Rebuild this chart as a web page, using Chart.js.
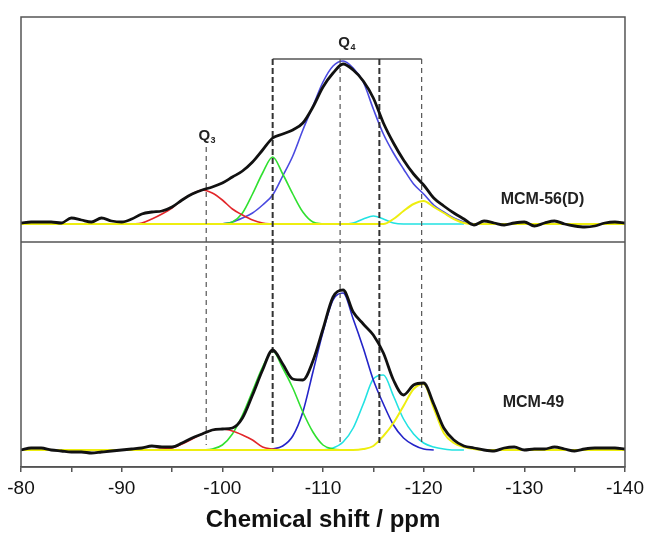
<!DOCTYPE html>
<html>
<head>
<meta charset="utf-8">
<script src="https://cdn.jsdelivr.net/npm/chart.js@4.4.1/dist/chart.umd.min.js"></script>
<style>
  html, body { margin: 0; padding: 0; background: #fff; }
</style>
</head>
<body>
<canvas id="nmrChart" width="649" height="534"></canvas>
<script>
const _ = null;

// chemical shift grid (ppm)
const shift = [
  -80, -81, -82, -83, -84, -85, -86, -87, -88, -89,
  -90, -91, -92, -93, -94, -95, -96, -97, -98, -99,
  -100, -101, -102, -103, -104, -105, -106, -107, -108, -109,
  -110, -111, -112, -113, -114, -115, -116, -117, -118, -119,
  -120, -121, -122, -123, -124, -125, -126, -127, -128, -129,
  -130, -131, -132, -133, -134, -135, -136, -137, -138, -139,
  -140
];

// MCM-56(D) (upper trace), intensity above its baseline
const mcm56Exp = [
  1, 2, 2, 2, 1, 6, 4, 2, 6, 3,
  2, 5, 10, 12, 13, 17, 24, 30, 34, 37,
  41, 47, 53, 62, 74, 86, 90, 94, 101, 117,
  137, 151, 160, 154, 143, 126, 101, 81, 64, 50,
  39, 26, 18, 11, 5, -1, 3, 1, -1, 1,
  2, -2, 1, 3, 0, -2, -3, -2, 1, 2,
  1
];
const mcm56Red = [
  _, _, _, _, _, _, _, _, _, _,
  _, 0, 1, 5, 10, 16, 24, 30, 34, 31,
  24, 15, 9, 4, 1, 0, _, _, _, _,
  _, _, _, _, _, _, _, _, _, _,
  _, _, _, _, _, _, _, _, _, _,
  _, _, _, _, _, _, _, _, _, _,
  _
];
const mcm56Green = [
  _, _, _, _, _, _, _, _, _, _,
  _, _, _, _, _, _, _, _, _, _,
  0, 2, 11, 30, 51, 67, 50, 30, 12, 2,
  0, _, _, _, _, _, _, _, _, _,
  _, _, _, _, _, _, _, _, _, _,
  _, _, _, _, _, _, _, _, _, _,
  _
];
const mcm56Blue = [
  _, _, _, _, _, _, _, _, _, _,
  _, _, _, _, _, _, _, _, _, _,
  0, 2, 6, 11, 19, 29, 48, 68, 94, 118,
  142, 158, 163, 156, 142, 115, 90, 71, 55, 40,
  30, 19, 12, 6, 2, 0, _, _, _, _,
  _, _, _, _, _, _, _, _, _, _,
  _
];
const mcm56Cyan = [
  _, _, _, _, _, _, _, _, _, _,
  _, _, _, _, _, _, _, _, _, _,
  _, _, _, _, _, _, _, _, _, _,
  _, 0, 0, 1, 5, 8, 5, 1, 0, 0,
  0, 0, 0, 0, 0, _, _, _, _, _,
  _, _, _, _, _, _, _, _, _, _,
  _
];
const mcm56Yellow = [
  0, 0, 0, 0, 0, 0, 0, 0, 0, 0,
  0, 0, 0, 0, 0, 0, 0, 0, 0, 0,
  0, 0, 0, 0, 0, 0, 0, 0, 0, 0,
  0, 0, 0, 0, 0, 0, 0, 5, 13, 20,
  23, 17, 11, 5, 1, 0, 0, 0, 0, 0,
  0, 0, 0, 0, 0, 0, 0, 0, 0, 0,
  0
];

// MCM-49 (lower trace)
const mcm49Exp = [
  0, 2, 2, 0, -1, -2, -2, -3, -2, -1,
  0, 1, 2, 4, 3, 3, 7, 12, 16, 20,
  21, 22, 32, 55, 80, 100, 86, 71, 70, 89,
  121, 153, 160, 138, 126, 115, 97, 70, 55, 65,
  67, 46, 22, 10, 4, 2, 0, -1, 2, 3,
  0, 1, 1, 3, 1, -1, 1, 2, 2, 2,
  1
];
const mcm49Red = [
  _, _, _, _, _, _, _, _, _, _,
  _, _, _, 0, 1, 2, 6, 11, 16, 20,
  21, 19, 15, 10, 3, 1, 0, _, _, _,
  _, _, _, _, _, _, _, _, _, _,
  _, _, _, _, _, _, _, _, _, _,
  _, _, _, _, _, _, _, _, _, _,
  _
];
const mcm49Green = [
  _, _, _, _, _, _, _, _, _, _,
  _, _, _, _, _, _, _, _, 0, 1,
  5, 16, 35, 59, 83, 99, 82, 62, 38, 18,
  5, 1, 0, _, _, _, _, _, _, _,
  _, _, _, _, _, _, _, _, _, _,
  _, _, _, _, _, _, _, _, _, _,
  _
];
const mcm49Blue = [
  _, _, _, _, _, _, _, _, _, _,
  _, _, _, _, _, _, _, _, _, _,
  _, _, _, _, 0, 1, 4, 14, 38, 78,
  118, 150, 157, 131, 102, 70, 46, 25, 12, 5,
  1, 0, _, _, _, _, _, _, _, _,
  _, _, _, _, _, _, _, _, _, _,
  _
];
const mcm49Cyan = [
  _, _, _, _, _, _, _, _, _, _,
  _, _, _, _, _, _, _, _, _, _,
  _, _, _, _, _, _, _, _, _, _,
  0, 2, 8, 22, 46, 71, 75, 54, 31, 16,
  7, 3, 1, 0, 0, _, _, _, _, _,
  _, _, _, _, _, _, _, _, _, _,
  _
];
const mcm49Yellow = [
  0, 0, 0, 0, 0, 0, 0, 0, 0, 0,
  0, 0, 0, 0, 0, 0, 0, 0, 0, 0,
  0, 0, 0, 0, 0, 0, 0, 0, 0, 0,
  0, 0, 0, 0, 1, 4, 14, 27, 44, 61,
  66, 42, 17, 7, 3, 1, 0, 0, 0, 0,
  0, 0, 0, 0, 0, 0, 0, 0, 0, 0,
  0
];

// vertical offset of the upper trace, and panel divider level
const upperOffset = 226;
const dividerLevel = 208;

// dashed guide lines at peak positions
const guideShift = [-98.4, -105, -111.7, -115.6, -119.8];
const guideTop = [303, 391, 391, 391, 391];
const guideThick = [false, true, false, true, false];
const guideBottom = 5;
// Q4 bracket
const bracketFrom = -105, bracketTo = -119.8, bracketLevel = 391;

const FONT = '"Liberation Sans", Arial, Helvetica, sans-serif';

function pts(values, offset) {
  const out = [];
  values.forEach((v, i) => {
    if (v !== null) out.push({ x: shift[i], y: v + offset });
  });
  return out;
}

function curve(values, offset, color, width) {
  return {
    data: pts(values, offset),
    borderColor: color,
    borderWidth: width,
    cubicInterpolationMode: 'monotone',
    pointRadius: 0,
    fill: false
  };
}

function seg(x1, y1, x2, y2, color, width, dash) {
  return {
    data: [{ x: x1, y: y1 }, { x: x2, y: y2 }],
    borderColor: color,
    borderWidth: width,
    borderDash: dash,
    pointRadius: 0,
    fill: false
  };
}

const datasets = [
  curve(mcm56Exp, upperOffset, '#111', 2.8),
  curve(mcm49Exp, 0, '#111', 2.8)
];
guideShift.forEach((s, i) => {
  datasets.push(seg(s, guideTop[i], s, guideBottom,
    guideThick[i] ? '#333' : '#555', guideThick[i] ? 2 : 1.2,
    guideThick[i] ? [6, 3] : [5, 4]));
});
datasets.push(seg(bracketFrom, bracketLevel, bracketTo, bracketLevel, '#555', 1.5, []));
datasets.push(seg(-80, dividerLevel, -140, dividerLevel, '#555', 1.6, []));
datasets.push(
  curve(mcm56Yellow, upperOffset, '#eeee10', 2),
  curve(mcm49Yellow, 0, '#eeee10', 2),
  curve(mcm56Red, upperOffset, '#e2262a', 1.6),
  curve(mcm49Red, 0, '#e2262a', 1.6),
  curve(mcm56Green, upperOffset, '#30e030', 1.6),
  curve(mcm49Green, 0, '#30e030', 1.6),
  curve(mcm56Blue, upperOffset, '#4a4ae0', 1.6),
  curve(mcm49Blue, 0, '#2424c8', 1.6),
  curve(mcm56Cyan, upperOffset, '#22e2e2', 1.6),
  curve(mcm49Cyan, 0, '#22e2e2', 1.6)
);

const frameAndLabels = {
  id: 'frameAndLabels',
  afterDatasetsDraw(chart) {
    const { ctx, chartArea: a, scales: { x, y } } = chart;
    ctx.save();
    ctx.strokeStyle = '#555';
    ctx.lineWidth = 1.5;
    ctx.strokeRect(a.left, a.top, a.right - a.left, a.bottom - a.top);

    ctx.fillStyle = '#222';
    ctx.textBaseline = 'alphabetic';

    function qLabel(text, sub, sx, sy) {
      ctx.font = 'bold 15px ' + FONT;
      ctx.textAlign = 'center';
      const px = x.getPixelForValue(sx), py = y.getPixelForValue(sy);
      ctx.fillText(text, px, py);
      const w = ctx.measureText(text).width;
      ctx.font = 'bold 9px ' + FONT;
      ctx.textAlign = 'left';
      ctx.fillText(sub, px + w / 2 + 0.5, py + 3);
    }
    qLabel('Q', '3', -98.2, 310);
    qLabel('Q', '4', -112.1, 403);

    ctx.font = 'bold 16px ' + FONT;
    ctx.textAlign = 'center';
    ctx.textBaseline = 'middle';
    ctx.fillText('MCM-56(D)', x.getPixelForValue(-131.8), y.getPixelForValue(250));
    ctx.fillText('MCM-49', x.getPixelForValue(-130.9), y.getPixelForValue(47));
    ctx.restore();
  }
};

new Chart(document.getElementById('nmrChart'), {
  type: 'line',
  data: { datasets: datasets },
  options: {
    responsive: false,
    animation: false,
    events: [],
    layout: { padding: { left: 21, right: 22, top: 17, bottom: 0 } },
    plugins: { legend: { display: false }, tooltip: { enabled: false } },
    scales: {
      x: {
        type: 'linear',
        min: -140,
        max: -80,
        reverse: true,
        afterFit(s) { s.height = 67; },
        border: { display: true, color: '#555', width: 1.5 },
        grid: { drawOnChartArea: false, drawTicks: true, tickLength: 5, color: '#555', lineWidth: 1.5 },
        ticks: {
          stepSize: 5,
          autoSkip: false,
          maxRotation: 0,
          padding: 5,
          color: '#111',
          font: { family: FONT, size: 19 },
          callback: v => (v % 10 === 0 ? String(v) : '')
        },
        title: {
          display: true,
          text: 'Chemical shift / ppm',
          color: '#111',
          font: { family: FONT, size: 24, weight: 'bold' },
          padding: { top: 0, bottom: -1 }
        }
      },
      y: { display: false, min: -17, max: 433 }
    }
  },
  plugins: [frameAndLabels]
});
</script>
</body>
</html>
